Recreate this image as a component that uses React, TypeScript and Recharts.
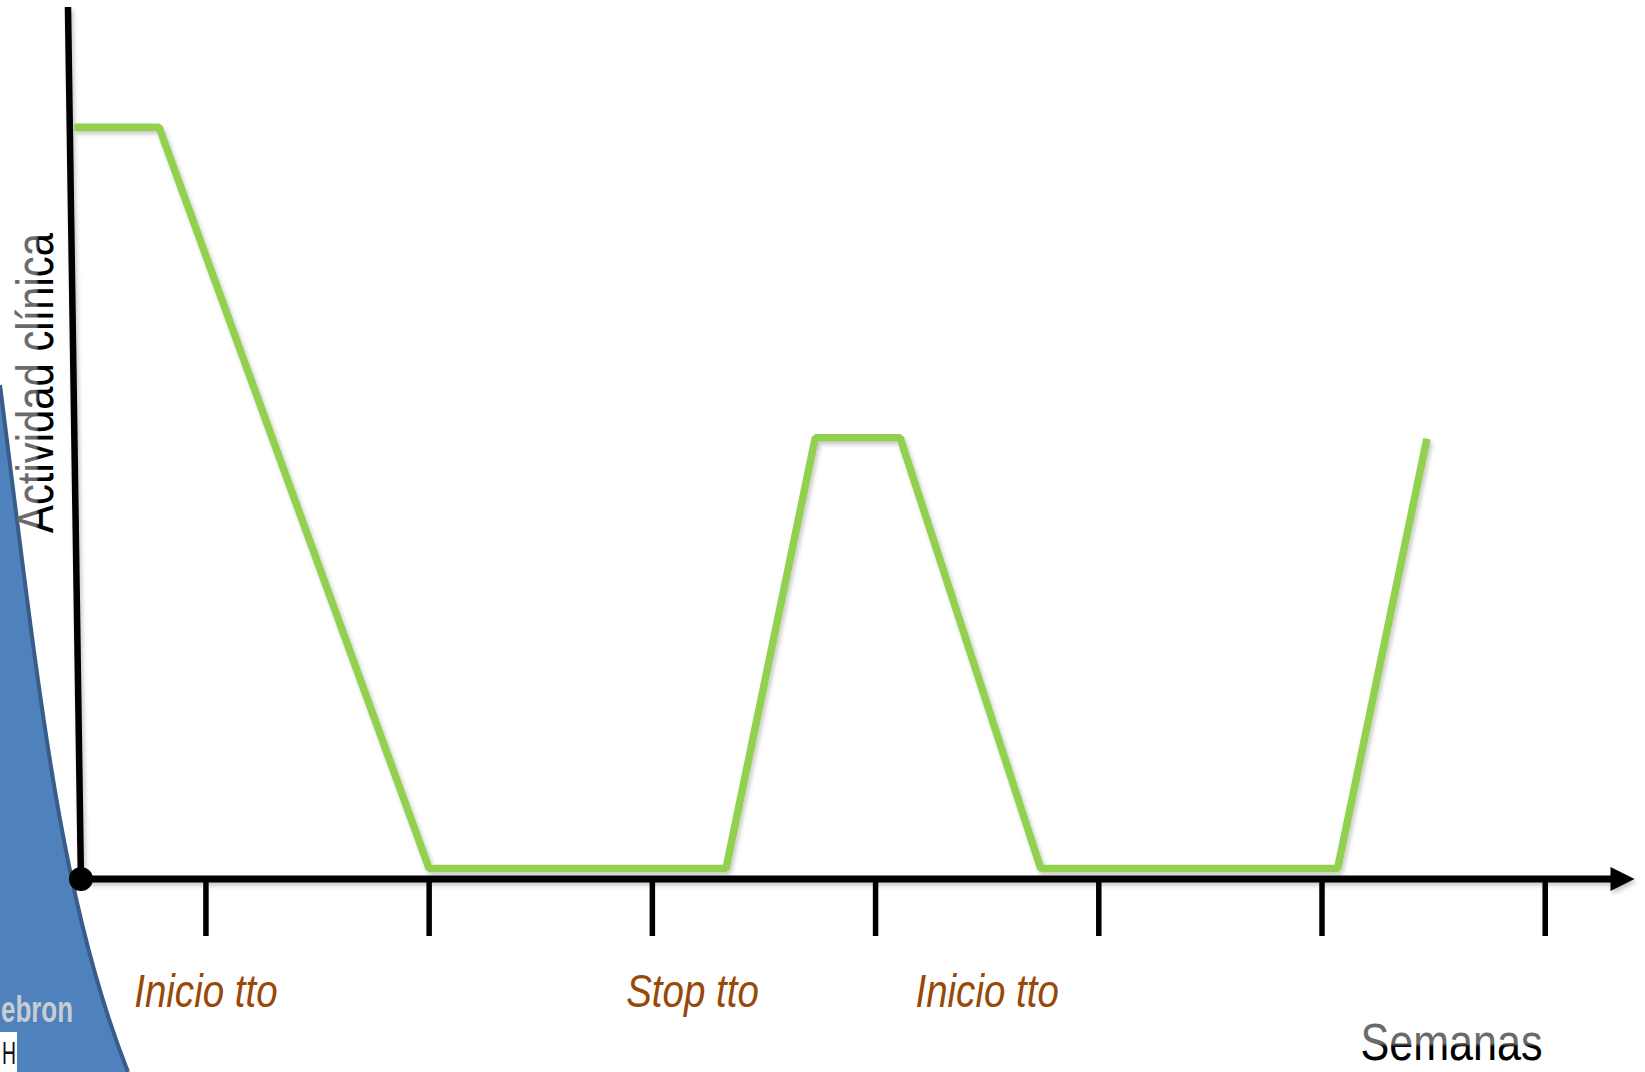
import React from 'react';
import { LineChart, Line, XAxis, YAxis, ReferenceLine, ReferenceDot, Label } from 'recharts';

// Curve of clinical activity over the weeks (x in weeks, y in relative activity 0–100)
const weeks = [0.41, 0.79, 2.0, 3.33, 3.73, 4.11, 4.74, 6.07, 6.47];
const activity = [86.2, 86.2, 1.2, 1.2, 50.6, 50.6, 1.2, 1.2, 50.5];

// Week tick marks along the time axis
const tickWeeks = [1, 2, 3, 4, 5, 6, 7];

// Treatment events written under the axis
const eventWeeks = [1.0, 3.18, 4.5];
const eventLabels = ['Inicio tto', 'Stop tto', 'Inicio tto'];

// Axis titles
const xTitle = 'Semanas';
const yTitle = 'Actividad clínica';

// Axis geometry in data units: the vertical axis leans slightly, starting at the origin
const originWeek = 0.44;
const yAxisTopWeek = 0.382;
const xDomain: [number, number] = [0.4, 7.4];
const yDomain: [number, number] = [0, 100];

const data = weeks.map((w, i) => ({ week: w, activity: activity[i] }));

const W = 1645;
const H = 1072;
const GREEN = '#92D050';
const BROWN = '#984807';
const SANS = "'Liberation Sans', Arial, sans-serif";

// Narrow lettering: regular sans squeezed horizontally around its anchor point
const Narrow = ({ x, y, squeeze, rotate = 0, children, ...rest }: any) => (
  <g transform={`translate(${x} ${y}) rotate(${rotate}) scale(${squeeze} 1)`}>
    <text x={0} y={0} {...rest}>
      {children}
    </text>
  </g>
);

const ArrowAxis = (p: any) => {
  const { x1, y1, x2 } = p;
  const head = 24;
  return (
    <g filter="url(#softShadow)">
      <line x1={x1} y1={y1} x2={x2 - head + 2} y2={y1} stroke="#000" strokeWidth={7} />
      <polygon points={`${x2 - head},${y1 - 12} ${x2},${y1} ${x2 - head},${y1 + 12}`} fill="#000" />
    </g>
  );
};

// Vertical axis line, with its title set alongside it
const LeaningAxis = (p: any) => {
  const { x1, y1, x2, y2 } = p;
  return (
    <g>
      <Narrow
        x={x2 - 28}
        y={y1 + 376}
        rotate={-90}
        squeeze={0.805}
        textAnchor="middle"
        fontFamily={SANS}
        fontSize={52}
        fill="url(#titleFill)"
      >
        {yTitle}
      </Narrow>
      <line x1={x1} y1={y1} x2={x2} y2={y2} stroke="#000" strokeWidth={6.5} filter="url(#softShadow)" />
    </g>
  );
};

const makeEventLabel = (text: string) => (p: any) => (
  <Narrow
    x={p.cx}
    y={p.cy + 128}
    squeeze={0.82}
    textAnchor="middle"
    fontFamily={SANS}
    fontStyle="italic"
    fontSize={47}
    fill={BROWN}
  >
    {text}
  </Narrow>
);

const XTitle = (p: any) => {
  const vb = p.viewBox || {};
  return (
    <Narrow
      x={vb.x + vb.width - 92}
      y={vb.y + 181}
      squeeze={0.845}
      textAnchor="end"
      fontFamily={SANS}
      fontSize={51}
      fill="url(#titleFill)"
    >
      {xTitle}
    </Narrow>
  );
};

const Backdrop = () => (
  <svg width={W} height={H} style={{ position: 'absolute', left: 0, top: 0 }}>
    <path d="M0,385 C40,700 60,900 128,1072 L0,1072 Z" fill="#4F81BD" />
    <path d="M0,385 C40,700 60,900 128,1072" fill="none" stroke="#385D8A" strokeWidth={4} />
    <text
      x={1}
      y={1022}
      fontFamily={SANS}
      fontWeight={700}
      fontSize={36}
      textLength={72}
      lengthAdjust="spacingAndGlyphs"
      fill="#C9CDD3"
    >
      ebron
    </text>
    <rect x={0} y={1032} width={17} height={40} fill="#FFFFFF" />
    <text
      x={2}
      y={1064}
      fontFamily={SANS}
      fontSize={32}
      textLength={14}
      lengthAdjust="spacingAndGlyphs"
      fill="#111"
    >
      H
    </text>
  </svg>
);

export default function App() {
  return (
    <div style={{ position: 'absolute', left: 0, top: 0, width: W, height: H, overflow: 'hidden', background: '#FFFFFF' }}>
      <Backdrop />
      <div style={{ position: 'absolute', left: 0, top: 0 }}>
        <LineChart width={W} height={H} data={data} margin={{ top: 7, right: 10.5, bottom: 133, left: 72 }}>
          <defs>
            <linearGradient id="titleFill" x1="0" y1="0" x2="0" y2="1">
              <stop offset="0%" stopColor="#6A6A6A" />
              <stop offset="52%" stopColor="#6A6A6A" />
              <stop offset="58%" stopColor="#000000" />
              <stop offset="100%" stopColor="#000000" />
            </linearGradient>
            <filter id="softShadow" filterUnits="userSpaceOnUse" x={0} y={0} width={W} height={H}>
              <feDropShadow dx={2} dy={3} stdDeviation={2} floodColor="#000" floodOpacity={0.22} />
            </filter>
          </defs>
          <XAxis
            type="number"
            dataKey="week"
            domain={xDomain}
            ticks={tickWeeks}
            interval={0}
            allowDataOverflow
            height={60}
            axisLine={false}
            tickLine={{ stroke: '#000', strokeWidth: 5.5 }}
            tickSize={57}
            tick={() => <g />}
          >
            <Label content={<XTitle />} />
          </XAxis>
          <YAxis type="number" domain={yDomain} width={0} axisLine={false} tickLine={false} tick={false} />
          <ReferenceLine
            segment={[{ x: yAxisTopWeek, y: yDomain[1] }, { x: originWeek, y: 0 }]}
            ifOverflow="visible"
            shape={LeaningAxis}
          />
          <ReferenceLine
            segment={[{ x: originWeek, y: 0 }, { x: xDomain[1], y: 0 }]}
            ifOverflow="visible"
            shape={ArrowAxis}
          />
          <ReferenceDot x={originWeek} y={0} r={12} fill="#000" stroke="none" ifOverflow="visible" />
          {eventWeeks.map((w, i) => (
            <ReferenceDot
              key={`ev-${i}`}
              x={w}
              y={0}
              r={0}
              ifOverflow="visible"
              shape={makeEventLabel(eventLabels[i])}
            />
          ))}
          <Line
            type="linear"
            dataKey="activity"
            stroke={GREEN}
            strokeWidth={7.5}
            strokeLinejoin="bevel"
            dot={false}
            activeDot={false}
            isAnimationActive={false}
            filter="url(#softShadow)"
          />
        </LineChart>
      </div>
    </div>
  );
}
